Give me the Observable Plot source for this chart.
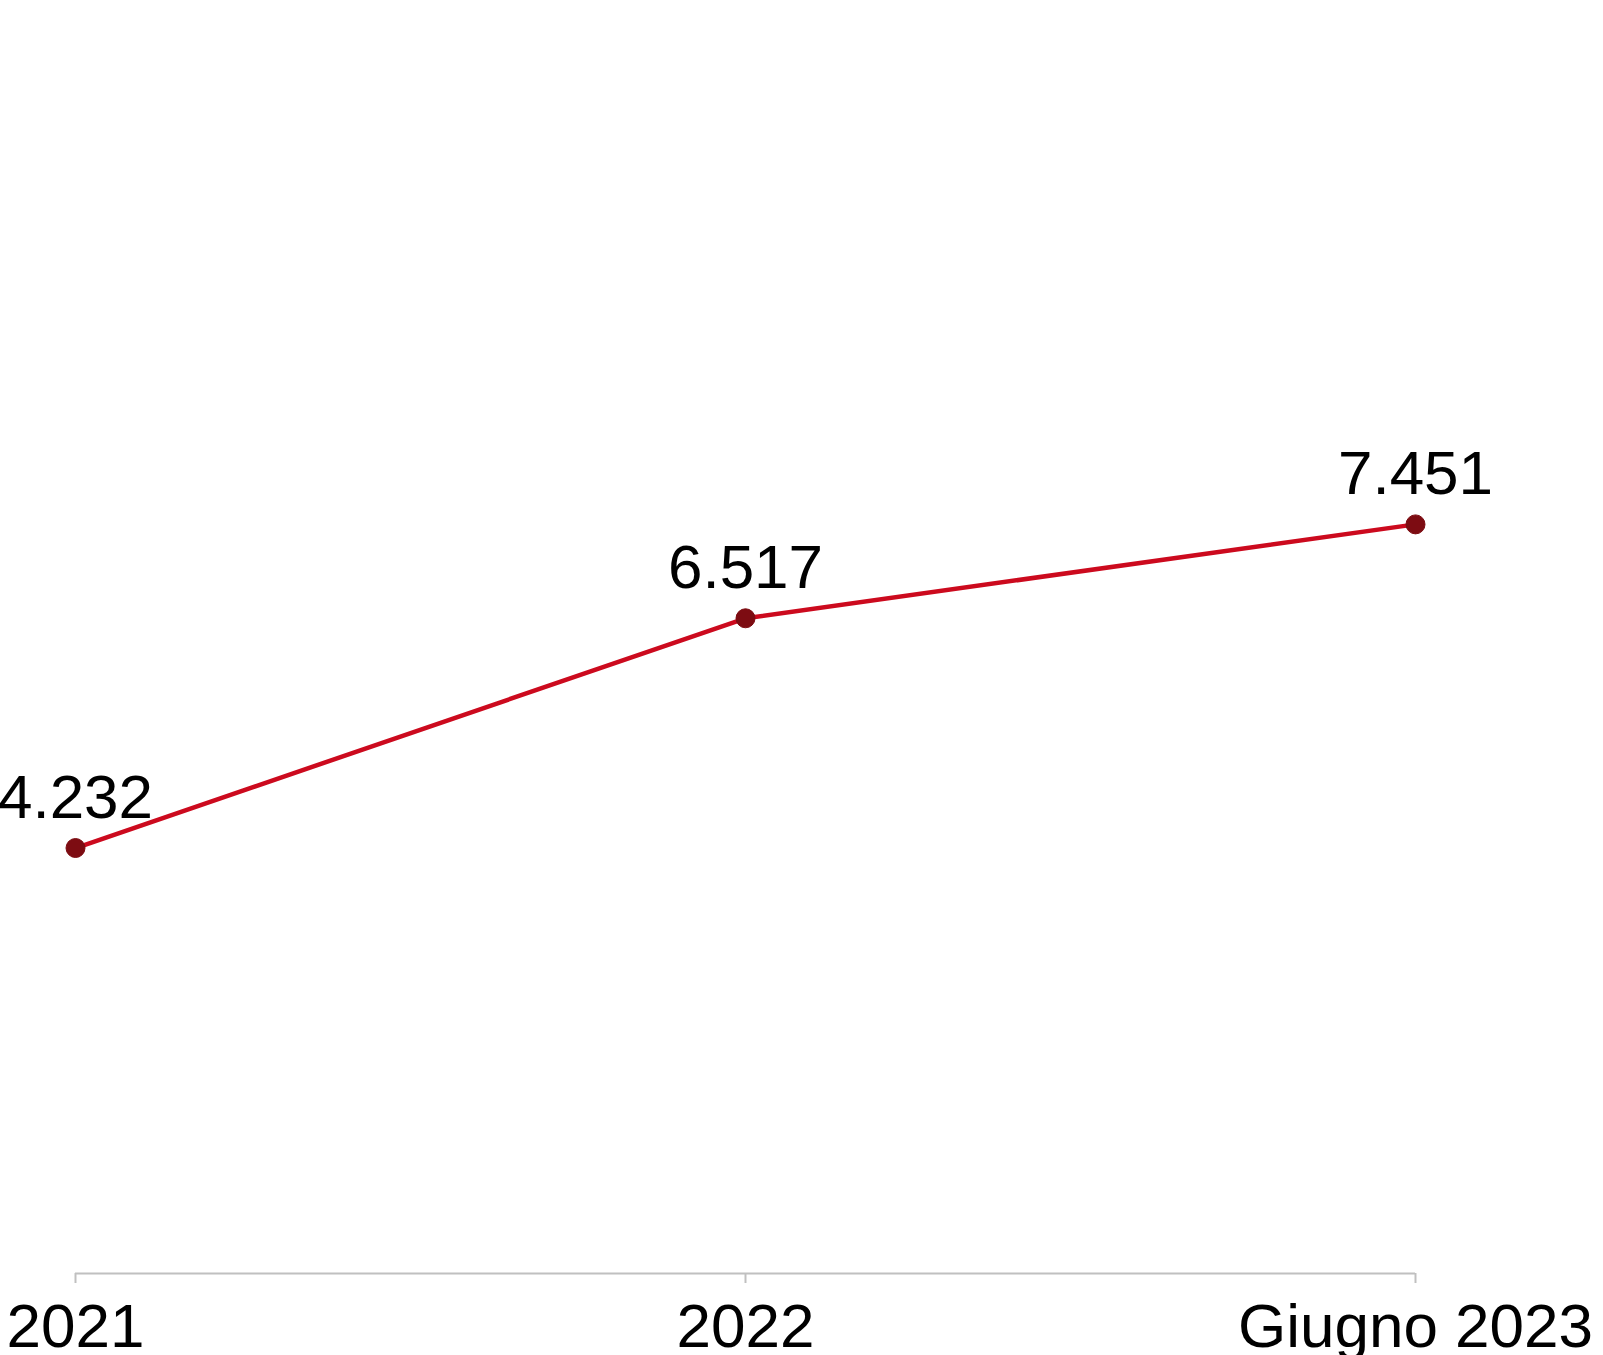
<!DOCTYPE html>
<html>
<head>
<meta charset="utf-8">
<script src="https://cdn.jsdelivr.net/npm/d3@7"></script>
<script src="https://cdn.jsdelivr.net/npm/@observablehq/plot@0.6"></script>
<style>
  html, body { margin: 0; padding: 0; background: #fff; }
  #chart svg { display: block; }
</style>
</head>
<body>
<div id="chart"></div>
<script>
const categories = ["2021", "2022", "Giugno 2023"];
const values = [4232, 6517, 7451];

const data = categories.map((c, i) => ({ category: c, value: values[i] }));
const itFormat = d3.formatLocale({ decimal: ",", thousands: ".", grouping: [3], currency: ["€", ""] }).format(",d");

const chart = Plot.plot({
  width: 1603,
  height: 1355,
  marginLeft: 75,
  marginRight: 188,
  marginTop: 0,
  marginBottom: 82,
  style: { fontFamily: "'Liberation Sans', Arial, sans-serif", background: "#fff", color: "#000" },
  x: { type: "point", domain: categories, padding: 0, label: null },
  y: { domain: [0, 10000], range: [1273, 267.6], axis: null },
  marks: [
    Plot.ruleY([0], { stroke: "#c0c0c0", strokeWidth: 2 }),
    Plot.axisX({ tickSize: 10, tickPadding: 19, fontSize: 62, stroke: "#c0c0c0", strokeWidth: 2, fill: "#000", label: null }),
    Plot.line(data, { x: "category", y: "value", stroke: "#cc0a1e", strokeWidth: 4.5 }),
    Plot.dot(data, { x: "category", y: "value", r: 9.5, fill: "#7d0c12", stroke: "#7d0c12", strokeWidth: 1 }),
    Plot.text(data, { x: "category", y: "value", text: d => itFormat(d.value), dy: -30, lineAnchor: "bottom", fontSize: 62, fill: "#000" })
  ]
});
document.getElementById("chart").appendChild(chart);
</script>
</body>
</html>
